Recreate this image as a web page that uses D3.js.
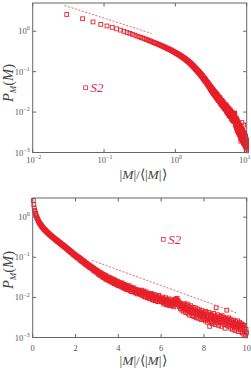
<!DOCTYPE html>
<html><head><meta charset="utf-8">
<script src="https://cdn.jsdelivr.net/npm/d3@7"></script>
<style>html,body{margin:0;padding:0;background:#fff;}svg{display:block;}</style>
</head><body>
<script>
// Bin centres |M|/<|M|>
const mBins = [
0.03,0.05,0.07,0.09,0.11,0.13,0.15,0.17,0.19,0.21,0.23,0.25,0.27,0.29,0.31,0.33,0.35,0.37,0.39,0.41,0.43,0.45,0.47,0.49,0.51,0.53,0.55,0.57,0.59,0.61,0.63,0.65,0.67,0.69,0.71,0.73,0.75,0.77,0.79,0.81,0.83,0.85,0.87,0.89,0.91,0.93,0.95,0.97,0.99,
1.01,1.03,1.05,1.07,1.09,1.11,1.13,1.15,1.17,1.19,1.21,1.23,1.25,1.27,1.29,1.31,1.33,1.35,1.37,1.39,1.41,1.43,1.45,1.47,1.49,1.51,1.53,1.55,1.57,1.59,1.61,1.63,1.65,1.67,1.69,1.71,1.73,1.75,1.77,1.79,1.81,1.83,1.85,1.87,1.89,1.91,1.93,1.95,1.97,1.99,
2.01,2.03,2.05,2.07,2.09,2.11,2.13,2.15,2.17,2.19,2.21,2.23,2.25,2.27,2.29,2.31,2.33,2.35,2.37,2.39,2.41,2.43,2.45,2.47,2.49,2.51,2.53,2.55,2.57,2.59,2.61,2.63,2.65,2.67,2.69,2.71,2.73,2.75,2.77,2.79,2.81,2.83,2.85,2.87,2.89,2.91,2.93,2.95,2.97,2.99,
3.01,3.03,3.05,3.07,3.09,3.11,3.13,3.15,3.17,3.19,3.21,3.23,3.25,3.27,3.29,3.31,3.33,3.35,3.37,3.39,3.41,3.43,3.45,3.47,3.49,3.51,3.53,3.55,3.57,3.59,3.61,3.63,3.65,3.67,3.69,3.71,3.73,3.75,3.77,3.79,3.81,3.83,3.85,3.87,3.89,3.91,3.93,3.95,3.97,3.99,
4.01,4.03,4.05,4.07,4.09,4.11,4.13,4.15,4.17,4.19,4.21,4.23,4.25,4.27,4.29,4.31,4.33,4.35,4.37,4.39,4.41,4.43,4.45,4.47,4.49,4.51,4.53,4.55,4.57,4.59,4.61,4.63,4.65,4.67,4.69,4.71,4.73,4.75,4.77,4.79,4.81,4.83,4.85,4.87,4.89,4.91,4.93,4.95,4.97,4.99,
5.01,5.03,5.05,5.07,5.09,5.11,5.13,5.15,5.17,5.19,5.21,5.23,5.25,5.27,5.29,5.31,5.33,5.35,5.37,5.39,5.41,5.43,5.45,5.47,5.49,5.51,5.53,5.55,5.57,5.59,5.61,5.63,5.65,5.67,5.69,5.71,5.73,5.75,5.77,5.79,5.81,5.83,5.85,5.87,5.89,5.91,5.93,5.95,5.97,5.99,
6.01,6.03,6.05,6.07,6.09,6.11,6.13,6.15,6.17,6.19,6.21,6.23,6.25,6.27,6.29,6.31,6.33,6.35,6.37,6.39,6.41,6.43,6.45,6.47,6.49,6.51,6.53,6.55,6.57,6.59,6.61,6.63,6.65,6.67,6.69,6.71,6.73,6.75,6.77,6.79,6.81,6.83,6.85,6.87,6.89,6.91,6.93,6.95,6.97,6.99,
7.01,7.03,7.05,7.07,7.09,7.11,7.13,7.15,7.17,7.19,7.21,7.23,7.25,7.27,7.29,7.31,7.33,7.35,7.37,7.39,7.41,7.43,7.45,7.47,7.49,7.51,7.53,7.55,7.57,7.59,7.61,7.63,7.65,7.67,7.69,7.71,7.73,7.75,7.77,7.79,7.81,7.83,7.85,7.87,7.89,7.91,7.93,7.95,7.97,7.99,
8.01,8.03,8.05,8.07,8.09,8.11,8.13,8.15,8.17,8.19,8.21,8.23,8.25,8.27,8.29,8.31,8.33,8.35,8.37,8.39,8.41,8.43,8.45,8.47,8.49,8.51,8.53,8.55,8.57,8.59,8.61,8.63,8.65,8.67,8.69,8.71,8.73,8.75,8.77,8.79,8.81,8.83,8.85,8.87,8.89,8.91,8.93,8.95,8.97,8.99,
9.01,9.03,9.05,9.07,9.09,9.11,9.13,9.15,9.17,9.19,9.21,9.23,9.25,9.27,9.29,9.31,9.33,9.35,9.37,9.39,9.41,9.43,9.45,9.47,9.49,9.51,9.53,9.55,9.57,9.59,9.61,9.63,9.65,9.67,9.69,9.71,9.73,9.75,9.77,9.79,9.81,9.83,9.85,9.87,9.89,9.91,9.93,9.95,9.97,9.99
];
// P_M(M), series S2
const pM = [
2.60,2.04,1.70,1.48,1.35,1.245,1.148,1.067,0.991,0.931,0.885,0.841,0.800,0.760,0.728,0.701,0.676,0.652,0.628,0.607,0.587,0.569,0.551,0.533,0.520,0.503,0.494,0.478,0.470,0.454,0.447,0.432,0.425,0.410,0.405,0.392,0.388,0.376,0.372,0.360,0.356,0.345,0.342,0.330,0.327,0.316,0.313,0.303,0.301,
0.296,0.283,0.285,0.272,0.274,0.262,0.265,0.251,0.254,0.243,0.246,0.232,0.235,0.224,0.228,0.215,0.218,0.206,0.211,0.199,0.203,0.191,0.194,0.183,0.188,0.176,0.181,0.170,0.173,0.162,0.167,0.156,0.160,0.149,0.154,0.143,0.148,0.137,0.142,0.132,0.137,0.127,0.131,0.121,0.126,0.116,0.121,0.112,0.116,0.108,
0.112,0.102,0.108,0.099,0.104,0.095,0.101,0.098,0.089,0.096,0.093,0.084,0.091,0.087,0.079,0.085,0.083,0.075,0.081,0.078,0.071,0.077,0.068,0.073,0.066,0.071,0.064,0.068,0.061,0.066,0.059,0.064,0.057,0.062,0.055,0.059,0.054,0.057,0.051,0.055,0.050,0.054,0.047,0.052,0.046,0.050,0.044,0.048,0.043,0.047,
0.046,0.040,0.044,0.038,0.043,0.041,0.036,0.042,0.038,0.034,0.040,0.036,0.033,0.038,0.035,0.031,0.037,0.032,0.034,0.029,0.035,0.031,0.028,0.033,0.030,0.027,0.032,0.029,0.026,0.031,0.028,0.025,0.030,0.027,0.024,0.029,0.026,0.023,0.028,0.025,0.022,0.027,0.024,0.0215,0.026,0.023,0.0205,0.025,0.022,0.0195,
0.024,0.021,0.0195,0.023,0.020,0.0225,0.0185,0.021,0.023,0.019,0.0175,0.0215,0.0195,0.017,0.021,0.0185,0.0165,0.020,0.018,0.0155,0.0195,0.017,0.0185,0.0155,0.0175,0.0195,0.016,0.0145,0.018,0.0165,0.014,0.0175,0.0155,0.0168,0.0138,0.016,0.0172,0.0142,0.0132,0.0158,0.0145,0.0128,0.0155,0.014,0.0122,0.0152,0.0135,0.0148,0.0122,0.014,
0.0148,0.0122,0.0138,0.0115,0.0152,0.0128,0.0112,0.0135,0.0145,0.0118,0.0105,0.0132,0.0122,0.0102,0.0138,0.0115,0.0125,0.0098,0.0118,0.0128,0.0105,0.0095,0.0122,0.0112,0.0092,0.0118,0.0105,0.0125,0.0098,0.0088,0.0112,0.0102,0.0085,0.0108,0.0118,0.0092,0.0082,0.0105,0.0098,0.0085,0.0108,0.0092,0.0078,0.0102,0.0112,0.0088,0.0078,0.0098,0.0092,0.0082,
0.0095,0.0078,0.0088,0.0102,0.0075,0.0085,0.0068,0.0092,0.0082,0.0072,0.0098,0.0079,0.0066,0.0088,0.0075,0.0082,0.0064,0.0078,0.0092,0.0070,0.0062,0.0082,0.0074,0.0087,0.0066,0.0075,0.0062,0.0082,0.0071,0.0058,0.0078,0.0085,0.0068,0.0088,0.0092,0.0075,0.0086,0.0095,0.0072,0.0082,0.0065,0.0078,0.0058,0.0072,0.0064,0.0052,0.0068,0.0058,0.0048,0.0062,
0.0066,0.0052,0.0045,0.0060,0.0070,0.0050,0.0058,0.0042,0.0063,0.0054,0.0046,0.0068,0.0040,0.0052,0.0059,0.0044,0.0036,0.0055,0.0048,0.0062,0.0041,0.0050,0.0035,0.0047,0.0056,0.0040,0.0033,0.0049,0.0043,0.0055,0.0038,0.0046,0.0031,0.0042,0.0052,0.0036,0.0045,0.0030,0.0040,0.0049,0.0034,0.0043,0.0037,0.0028,0.0041,0.0047,0.0033,0.0039,0.0029,0.0036,
0.0042,0.0030,0.0037,0.0026,0.0045,0.0033,0.0028,0.0039,0.0024,0.0035,0.0031,0.0042,0.0027,0.0019,0.0034,0.0038,0.0025,0.0030,0.0036,0.0022,0.0033,0.0028,0.0040,0.0024,0.0031,0.0035,0.0021,0.0029,0.0055,0.0026,0.0032,0.0023,0.0037,0.0028,0.0020,0.0030,0.0034,0.0024,0.0027,0.0033,0.0019,0.0028,0.0035,0.0023,0.0029,0.0025,0.0032,0.0021,0.0027,0.0017,
0.0030,0.0022,0.0026,0.0048,0.0020,0.0028,0.0024,0.0031,0.0019,0.0025,0.0022,0.0029,0.0017,0.0023,0.0027,0.0020,0.0016,0.0024,0.0021,0.0027,0.0018,0.0022,0.0015,0.0025,0.0019,0.0023,0.0016,0.0021,0.0026,0.0018,0.0014,0.0022,0.0019,0.0024,0.0016,0.0020,0.0014,0.0022,0.0018,0.0013,0.0021,0.0016,0.0019,0.0012,0.0017,0.0020,0.0014,0.0011,0.0016,0.0013
];
const seriesName = "S2";
// Guide lines (dashed): endpoints [x, y]
const guideTop = [[0.028, 4.35], [0.465, 0.88]];
const guideBottom = [[2.78, 0.083], [9.53, 0.0041]];
const logXTicks = [0.01, 0.1, 1, 10];
const logYTicks = [0.001, 0.01, 0.1, 1];
const linXTicks = [0, 2, 4, 6, 8, 10];

const W = 251, H = 371;
const RED = "#e6202a", GUIDE = "#e2405c", LEG = "#d9284e", AX = "#666", TXT = "#555";
const svg = d3.select("body").append("svg").attr("width", W).attr("height", H);
svg.append("rect").attr("width", W).attr("height", H).attr("fill", "#fff");

const data = mBins.map((m, i) => ({x: m, y: pM[i]}));

function expLabel(g, v, x, y, anchor) {
  const e = Math.round(Math.log10(v));
  const t = g.append("text").attr("x", x).attr("y", y).attr("text-anchor", anchor)
    .attr("font-family", "Liberation Serif, serif").attr("font-size", 8.5).attr("fill", TXT);
  t.append("tspan").text("10");
  t.append("tspan").attr("dy", -3.8).attr("font-size", 6).text(String(e).replace("-", "\u2212"));
}

function panel(opts) {
  const {x, y, top, bottom, left, right, logX, legend, guide, titleY, titleX} = opts;
  const g = svg.append("g");
  // data squares
  const s = 3.8;
  g.append("g").selectAll("rect").data(data.filter(d => d.x >= x.domain()[0] && d.x <= x.domain()[1] && d.y >= y.domain()[0]))
    .join("rect")
    .attr("x", d => x(d.x) - s / 2).attr("y", d => y(d.y) - s / 2)
    .attr("width", s).attr("height", s)
    .attr("fill", "none").attr("stroke", RED).attr("stroke-width", 0.9);
  // dashed guide
  g.append("path").attr("d", d3.line().x(d => x(d[0])).y(d => y(d[1]))(guide))
    .attr("fill", "none").attr("stroke", GUIDE).attr("stroke-width", 0.8).attr("stroke-dasharray", "2,1.6");
  // frame
  g.append("rect").attr("x", left).attr("y", top).attr("width", right - left).attr("height", bottom - top)
    .attr("fill", "none").attr("stroke", AX).attr("stroke-width", 1);
  const tl = 3.5;
  const xt = logX ? logXTicks : linXTicks;
  xt.forEach((v, i) => {
    const px = x(v);
    g.append("line").attr("x1", px).attr("x2", px).attr("y1", bottom).attr("y2", bottom - tl).attr("stroke", AX);
    g.append("line").attr("x1", px).attr("x2", px).attr("y1", top).attr("y2", top + tl).attr("stroke", AX);
    if (logX) {
      const last = i === xt.length - 1;
      expLabel(g, v, last ? W - 0.5 : px + 1, bottom + 10.5, last ? "end" : "middle");
    } else g.append("text").attr("x", px).attr("y", bottom + 13).attr("text-anchor", "middle")
      .attr("font-family", "Liberation Serif, serif").attr("font-size", 8.5).attr("fill", TXT).text(v);
  });
  logYTicks.forEach(v => {
    const py = y(v);
    g.append("line").attr("x1", left).attr("x2", left + tl).attr("y1", py).attr("y2", py).attr("stroke", AX);
    g.append("line").attr("x1", right).attr("x2", right - tl).attr("y1", py).attr("y2", py).attr("stroke", AX);
    expLabel(g, v, left - 3, py + 3, "end");
  });
  // legend
  g.append("rect").attr("x", legend[0] - s / 2).attr("y", legend[1] - s / 2).attr("width", s).attr("height", s)
    .attr("fill", "none").attr("stroke", LEG).attr("stroke-width", 0.8);
  g.append("text").attr("x", legend[0] + 5).attr("y", legend[1] + 4.5)
    .attr("font-family", "Liberation Serif, serif").attr("font-style", "italic").attr("font-size", 13)
    .attr("fill", LEG).text(seriesName);
  // y title
  const ty = g.append("text").attr("transform", `translate(${titleY[0]},${titleY[1]}) rotate(-90)`)
    .attr("text-anchor", "middle").attr("font-family", "Liberation Serif, serif").attr("font-size", 14.5).attr("fill", "#444");
  ty.append("tspan").attr("font-style", "italic").text("P");
  ty.append("tspan").attr("font-style", "italic").attr("font-size", 9).attr("dy", 3).text("M");
  ty.append("tspan").attr("dy", -3).text("(");
  ty.append("tspan").attr("font-style", "italic").text("M");
  ty.append("tspan").text(")");
  // x title
  const tx = g.append("text").attr("x", titleX[0]).attr("y", titleX[1]).attr("text-anchor", "middle")
    .attr("font-family", "Liberation Serif, serif").attr("font-size", 13.5).attr("fill", "#444");
  tx.append("tspan").text("|");
  tx.append("tspan").attr("font-style", "italic").text("M");
  tx.append("tspan").text("|/\u27E8|");
  tx.append("tspan").attr("font-style", "italic").text("M");
  tx.append("tspan").text("|\u27E9");
}

const L = 32.7, R = 246.7;
// Top panel: log-log
const xTop = d3.scaleLog().domain([0.01, 10]).range([L, R]);
const yTop = d3.scaleLog().domain([0.001, 5]).range([152.5, 3]);
panel({x: xTop, y: yTop, top: 3, bottom: 152.5, left: L, right: R, logX: true,
  legend: [xTop(0.055), yTop(0.04)], guide: guideTop, titleY: [13, 83], titleX: [143, 179]});

// Bottom panel: lin-log
const xBot = d3.scaleLinear().domain([0, 10]).range([L, R]);
const yBot = d3.scaleLog().domain([0.001, 3]).range([337.5, 198]);
panel({x: xBot, y: yBot, top: 198, bottom: 337.5, left: L, right: R, logX: false,
  legend: [xBot(6.1), yBot(0.28)], guide: guideBottom, titleY: [13, 270], titleX: [143, 365]});
</script>
</body></html>
